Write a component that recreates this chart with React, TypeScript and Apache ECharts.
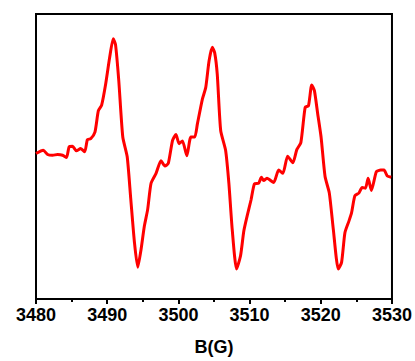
import React, { useEffect, useRef } from "react";
import * as echarts from "echarts";

// Magnetic field B (G)
const fieldB: number[] = [
  3480.0, 3481.02, 3481.63, 3482.33, 3483.03, 3483.73, 3484.29, 3484.65, 3485.13, 3485.68,
  3486.28, 3486.84, 3487.22, 3487.68, 3488.28, 3488.76, 3489.22, 3489.78, 3490.34, 3490.85,
  3491.17, 3491.63, 3492.19, 3492.81, 3493.3, 3493.83, 3494.29, 3494.76, 3495.22, 3495.68,
  3496.16, 3496.86, 3497.56, 3498.11, 3498.58, 3499.18, 3499.65, 3500.11, 3500.57, 3501.19,
  3501.75, 3502.3, 3502.67, 3503.37, 3503.84, 3504.3, 3504.76, 3505.1, 3505.46, 3505.94,
  3506.63, 3507.09, 3507.56, 3508.17, 3508.73, 3509.19, 3509.65, 3510.21, 3510.68, 3511.28,
  3511.66, 3511.98, 3512.44, 3513.38, 3514.08, 3514.68, 3515.34, 3516.08, 3516.63, 3517.2,
  3517.81, 3518.27, 3518.73, 3519.11, 3519.57, 3520.04, 3520.6, 3521.2, 3521.76, 3522.46,
  3522.92, 3523.39, 3523.95, 3524.32, 3524.79, 3525.35, 3525.81, 3526.27, 3526.65, 3527.11,
  3527.81, 3528.42, 3528.88, 3529.34, 3529.9,
];

// EPR signal intensity (arbitrary units)
const intensity: number[] = [
  147, 150.3, 146, 145.3, 146, 145.3, 143, 153.7, 154.3, 149.7,
  152, 148.7, 161, 162, 168.7, 190.3, 196, 217, 243.7, 263,
  257, 220.3, 163.7, 143.7, 102, 57, 32, 50.3, 73.7, 90.3,
  117, 127, 139.7, 134.3, 137, 160.3, 166.3, 157, 159.7, 144.7,
  163.7, 163.7, 177, 202, 213.7, 240.3, 254.3, 248.7, 227, 170.3,
  150.3, 117, 70.3, 30.3, 43.7, 68.7, 83.7, 100.3, 116.3, 117,
  123, 119.7, 122, 117.7, 130.3, 127, 144.3, 137.7, 151, 158,
  193.7, 195.3, 216.3, 210.3, 187, 163.7, 123.7, 107, 70.3, 30.3,
  37, 67, 78.7, 87, 104.3, 107, 112.7, 112, 122, 109.7,
  128.7, 130.3, 130.3, 124.3, 123,
];

const xTicks = { min: 3480, max: 3530, interval: 10 };

export default function App() {
  const ref = useRef<HTMLDivElement>(null);
  useEffect(() => {
    if (!ref.current) return;
    const chart = echarts.init(ref.current, undefined, { renderer: "svg" });
    const font = "'Liberation Sans', Arial, sans-serif";
    chart.setOption({
      animation: false,
      backgroundColor: "#ffffff",
      grid: {
        left: 36,
        top: 14,
        width: 358,
        height: 288,
        show: true,
        borderColor: "#000",
        borderWidth: 2,
        backgroundColor: "transparent",
      },
      xAxis: {
        type: "value",
        min: xTicks.min,
        max: xTicks.max,
        interval: xTicks.interval,
        name: "B(G)",
        nameLocation: "middle",
        nameGap: 39,
        nameTextStyle: { fontFamily: font, fontSize: 18, fontWeight: "bold", color: "#000" },
        axisLine: { show: true, onZero: false, lineStyle: { color: "#000", width: 2 } },
        axisTick: { show: true, inside: false, length: 5, lineStyle: { color: "#000", width: 2 } },
        minorTick: { show: true, splitNumber: 2, length: 3, lineStyle: { color: "#000", width: 2 } },
        axisLabel: {
          fontFamily: font,
          fontSize: 18,
          fontWeight: "bold",
          color: "#000",
          margin: 7,
          formatter: (v: number) => String(v),
        },
        splitLine: { show: false },
      },
      yAxis: {
        type: "value",
        min: 0,
        max: 288,
        axisLine: { show: true, lineStyle: { color: "#000", width: 2 } },
        axisTick: { show: false },
        axisLabel: { show: false },
        splitLine: { show: false },
      },
      series: [
        {
          type: "line",
          data: fieldB.map((b, i) => [b, intensity[i]]),
          showSymbol: false,
          smooth: 0.2,
          lineStyle: { color: "#ff0000", width: 3 },
          clip: true,
        },
      ],
    });
    return () => chart.dispose();
  }, []);
  return <div ref={ref} style={{ width: 415, height: 361, position: "absolute", left: 0, top: 0 }} />;
}
